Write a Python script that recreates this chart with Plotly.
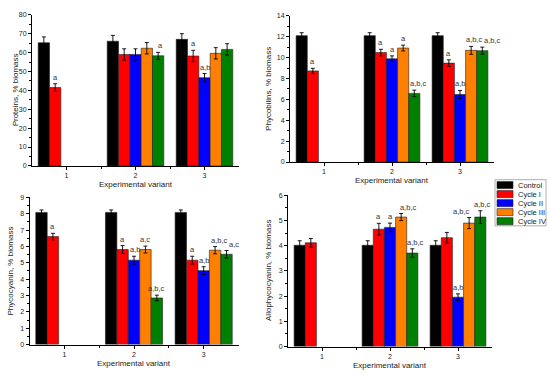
import plotly.graph_objects as go

# ---------------- data ----------------
categories = [1, 2, 3]
category_labels = ["1", "2", "3"]
series_names = ["Control", "Cycle I", "Cycle II", "Cycle III", "Cycle IV"]
series_colors = ["#000000", "#FF0000", "#0000FF", "#FF8000", "#008000"]

# Proteins, % biomass
proteins_control = [65.2, 66.0, 67.0]
proteins_c1 = [41.5, 59.0, 58.2]
proteins_c2 = [None, 59.0, 46.7]
proteins_c3 = [None, 62.3, 59.6]
proteins_c4 = [None, 58.3, 61.7]
proteins_err_control = [3.1, 3.1, 3.0]
proteins_err_c1 = [2.0, 3.0, 3.0]
proteins_err_c2 = [0, 3.0, 2.2]
proteins_err_c3 = [0, 3.0, 3.0]
proteins_err_c4 = [0, 1.8, 3.0]
proteins_lab_control = ["", "", ""]
proteins_lab_c1 = ["a", "", "a"]
proteins_lab_c2 = ["", "", "a,b"]
proteins_lab_c3 = ["", "", ""]
proteins_lab_c4 = ["", "a", ""]

# Phycobilins, % biomass
phycobilins_control = [12.1, 12.1, 12.1]
phycobilins_c1 = [8.72, 10.48, 9.47]
phycobilins_c2 = [None, 9.88, 6.47]
phycobilins_c3 = [None, 10.91, 10.69]
phycobilins_c4 = [None, 6.57, 10.66]
phycobilins_err_control = [0.28, 0.28, 0.28]
phycobilins_err_c1 = [0.25, 0.31, 0.31]
phycobilins_err_c2 = [0, 0.28, 0.38]
phycobilins_err_c3 = [0, 0.28, 0.38]
phycobilins_err_c4 = [0, 0.31, 0.34]
phycobilins_lab_control = ["", "", ""]
phycobilins_lab_c1 = ["a", "a", "a"]
phycobilins_lab_c2 = ["", "a", "a,b"]
phycobilins_lab_c3 = ["", "a", "a,b,c"]
phycobilins_lab_c4 = ["", "a,b,c", "a,b,c"]

# Phycocyanin, % biomass
phycocyanin_control = [8.08, 8.08, 8.08]
phycocyanin_c1 = [6.6, 5.81, 5.16]
phycocyanin_c2 = [None, 5.16, 4.52]
phycocyanin_c3 = [None, 5.81, 5.77]
phycocyanin_c4 = [None, 2.85, 5.52]
phycocyanin_err_control = [0.15, 0.15, 0.15]
phycocyanin_err_c1 = [0.2, 0.24, 0.24]
phycocyanin_err_c2 = [0, 0.24, 0.24]
phycocyanin_err_c3 = [0, 0.21, 0.22]
phycocyanin_err_c4 = [0, 0.17, 0.23]
phycocyanin_lab_control = ["", "", ""]
phycocyanin_lab_c1 = ["a", "a", "a"]
phycocyanin_lab_c2 = ["", "a,b", "a,b"]
phycocyanin_lab_c3 = ["", "a,c", "a,b,c"]
phycocyanin_lab_c4 = ["", "a,b,c", "a,c"]

# Allophycocyanin, % biomass
allo_control = [4.02, 4.02, 4.02]
allo_c1 = [4.12, 4.66, 4.32]
allo_c2 = [None, 4.73, 1.96]
allo_c3 = [None, 5.14, 4.90]
allo_c4 = [None, 3.71, 5.14]
allo_err_control = [0.18, 0.18, 0.18]
allo_err_c1 = [0.17, 0.23, 0.21]
allo_err_c2 = [0, 0.17, 0.13]
allo_err_c3 = [0, 0.14, 0.22]
allo_err_c4 = [0, 0.17, 0.25]
allo_lab_control = ["", "", ""]
allo_lab_c1 = ["", "a", ""]
allo_lab_c2 = ["", "a", "a,b"]
allo_lab_c3 = ["", "a,b,c", "a,b,c"]
allo_lab_c4 = ["", "a,b,c", "a,b,c"]

y_titles = ["Proteins, % biomass", "Phycobilins, % biomass",
            "Phycocyanin, % biomass", "Allophycocyanin, % biomass"]
x_title = "Experimental variant"
y_ranges = [[0, 80], [0, 14], [0, 9], [0, 6]]
y_dticks = [10, 2, 1, 1]

panels = [
    ([proteins_control, proteins_c1, proteins_c2, proteins_c3, proteins_c4],
     [proteins_err_control, proteins_err_c1, proteins_err_c2, proteins_err_c3, proteins_err_c4],
     [proteins_lab_control, proteins_lab_c1, proteins_lab_c2, proteins_lab_c3, proteins_lab_c4]),
    ([phycobilins_control, phycobilins_c1, phycobilins_c2, phycobilins_c3, phycobilins_c4],
     [phycobilins_err_control, phycobilins_err_c1, phycobilins_err_c2, phycobilins_err_c3, phycobilins_err_c4],
     [phycobilins_lab_control, phycobilins_lab_c1, phycobilins_lab_c2, phycobilins_lab_c3, phycobilins_lab_c4]),
    ([phycocyanin_control, phycocyanin_c1, phycocyanin_c2, phycocyanin_c3, phycocyanin_c4],
     [phycocyanin_err_control, phycocyanin_err_c1, phycocyanin_err_c2, phycocyanin_err_c3, phycocyanin_err_c4],
     [phycocyanin_lab_control, phycocyanin_lab_c1, phycocyanin_lab_c2, phycocyanin_lab_c3, phycocyanin_lab_c4]),
    ([allo_control, allo_c1, allo_c2, allo_c3, allo_c4],
     [allo_err_control, allo_err_c1, allo_err_c2, allo_err_c3, allo_err_c4],
     [allo_lab_control, allo_lab_c1, allo_lab_c2, allo_lab_c3, allo_lab_c4]),
]

# ---------------- layout ----------------
W, H = 550, 378
FONT = "Liberation Sans, Arial, sans-serif"
TXT = "#1a1a1a"
BARGAP = 0.18

# panel boxes in pixels: (x0, x1, ytop, ybottom)
boxes = [(32, 239, 11, 165), (290, 494, 12, 161),
         (29.5, 238.5, 197, 347), (288, 492, 195, 349)]
ytitle_shift = [-17, -21, -19, -19]
# small horizontal nudges of significance labels (panel, series, category) -> px
label_nudge = {(0, 4, 1): 2,
               (1, 4, 1): 4, (1, 3, 2): 3, (1, 4, 2): 10,
               (2, 2, 1): 1, (2, 3, 2): 4, (2, 4, 2): 7,
               (3, 3, 1): 7, (3, 4, 1): 3, (3, 3, 2): -8, (3, 4, 2): 2}

fig = go.Figure()
annotations = []
shapes = []
bar_w = (1 - BARGAP) / len(series_names)

for p, (vals, errs, labs) in enumerate(panels):
    sfx = "" if p == 0 else str(p + 1)
    xa, ya = "x" + sfx, "y" + sfx
    for i, name in enumerate(series_names):
        fig.add_trace(go.Bar(
            x=categories, y=vals[i], name=name,
            marker=dict(color=series_colors[i], line=dict(color="#222222", width=0.6)),
            error_y=dict(type="data", array=errs[i], color="#000000", thickness=0.9, width=2),
            xaxis=xa, yaxis=ya, showlegend=False, hoverinfo="skip",
        ))
        for j, c in enumerate(categories):
            if labs[i][j] and vals[i][j] is not None:
                annotations.append(dict(
                    x=c + (i - (len(series_names) - 1) / 2) * bar_w,
                    y=vals[i][j] + errs[i][j], xref=xa, yref=ya,
                    text=labs[i][j], showarrow=False, yanchor="bottom",
                    xshift=label_nudge.get((p, i, j), 0), yshift=0,
                    font=dict(size=7.5, color="#333333", family=FONT)))
    x0, x1, yt, yb = boxes[p]
    axkey = "xaxis" + sfx
    aykey = "yaxis" + sfx
    fig.layout[axkey] = dict(
        domain=[x0 / W, x1 / W], anchor=ya, range=[0.5, 3.5],
        tickmode="array", tickvals=categories, ticktext=category_labels,
        ticks="outside", ticklen=3, tickwidth=1, tickcolor="#000",
        showline=True, linecolor="#000", linewidth=1,
        showgrid=False, zeroline=False, fixedrange=True,
        tickfont=dict(size=7, color=TXT, family=FONT),
        minor=dict(tickmode="array", tickvals=[1.5, 2.5], ticks="outside",
                   ticklen=2, tickcolor="#000", tickwidth=1),
    )
    fig.layout[aykey] = dict(
        domain=[1 - yb / H, 1 - yt / H], anchor=xa, range=y_ranges[p],
        dtick=y_dticks[p], tick0=0,
        ticks="outside", ticklen=3, tickwidth=1, tickcolor="#000",
        showline=True, linecolor="#000", linewidth=1,
        showgrid=False, zeroline=False, fixedrange=True,
        tickfont=dict(size=7, color=TXT, family=FONT),
        minor=dict(dtick=y_dticks[p] / 2, tick0=0, ticks="outside",
                   ticklen=2, tickcolor="#000", tickwidth=1),
    )
    annotations.append(dict(
        x=0.5, y=0, xref=xa + " domain", yref=ya + " domain",
        text=x_title, showarrow=False, yanchor="top", yshift=-12,
        font=dict(size=8, color=TXT, family=FONT)))
    annotations.append(dict(
        x=0, y=0.5, xref=xa + " domain", yref=ya + " domain",
        text=y_titles[p], showarrow=False, textangle=-90,
        xanchor="center", yanchor="middle", xshift=ytitle_shift[p],
        font=dict(size=8, color=TXT, family=FONT)))

# manual legend (compact, like the original)
lx0, ly0, lx1, ly1 = 495, 179, 546, 226
row_h = 9.2
shapes.append(dict(type="rect", xref="paper", yref="paper",
                   x0=lx0 / W, x1=lx1 / W, y0=1 - ly1 / H, y1=1 - ly0 / H,
                   line=dict(color="#999999", width=0.8), fillcolor="white"))
for i, name in enumerate(series_names):
    yc = ly0 + 5.5 + i * row_h
    shapes.append(dict(type="rect", xref="paper", yref="paper",
                       x0=497 / W, x1=513 / W,
                       y0=1 - (yc + 3.6) / H, y1=1 - (yc - 3.6) / H,
                       line=dict(color="#222222", width=0.6),
                       fillcolor=series_colors[i]))
    annotations.append(dict(x=516 / W, y=1 - yc / H, xref="paper", yref="paper",
                            text=name, showarrow=False, xanchor="left", yanchor="middle",
                            font=dict(size=7.5, color=TXT, family=FONT)))

fig.update_layout(
    width=W, height=H, margin=dict(l=0, r=0, t=0, b=0),
    paper_bgcolor="white", plot_bgcolor="white",
    barmode="group", bargap=BARGAP, bargroupgap=0,
    annotations=annotations, shapes=shapes,
    font=dict(family=FONT, color=TXT), hovermode=False,
)

fig.write_html("out.html", config={"displayModeBar": False, "staticPlot": True},
               post_script="document.body.style.margin='0px';document.body.style.overflow='hidden';")
